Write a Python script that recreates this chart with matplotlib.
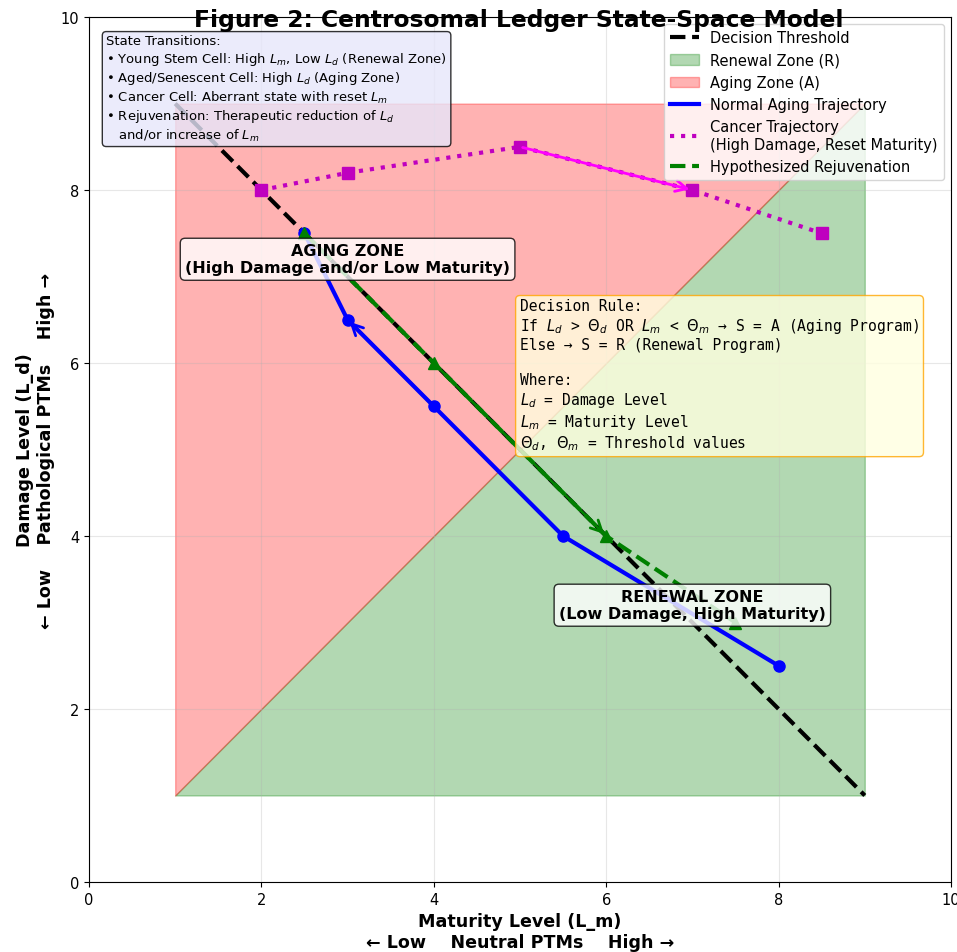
import matplotlib
matplotlib.use("Agg")
import matplotlib.pyplot as plt
from matplotlib.lines import Line2D
from matplotlib.patches import Patch
import numpy as np

# Data
threshold_x = [1, 9]
threshold_y = [9, 1]
zone_x = [1, 9]
zone_low = [1, 1]
zone_high = [9, 9]

normal_x = [2.5, 3, 4, 5.5, 8]
normal_y = [7.5, 6.5, 5.5, 4, 2.5]

cancer_x = [2, 3, 5, 7, 8.5]
cancer_y = [8, 8.2, 8.5, 8, 7.5]

rejuv_x = [2.5, 4, 6, 7.5]
rejuv_y = [7.5, 6, 4, 3]

ticks = [0, 2, 4, 6, 8, 10]

S = 1.05
plt.rcParams['xtick.labelsize'] = 10 * S
plt.rcParams['ytick.labelsize'] = 10 * S

fig = plt.figure(figsize=(9.57, 9.53), dpi=100)
ax = fig.add_axes([0.093, 0.0735, 0.9007, 0.9075])

# Zones
ax.fill_between(zone_x, zone_low, zone_x, color='green', alpha=0.3)
ax.fill_between(zone_x, zone_x, zone_high, color='red', alpha=0.3)

# Threshold
ax.plot(threshold_x, threshold_y, 'k--', lw=3)

# Trajectories
ax.plot(normal_x, normal_y, color='blue', lw=3, marker='o', markersize=8)
ax.annotate('', xy=(normal_x[1], normal_y[1]), xytext=(normal_x[2], normal_y[2]),
            arrowprops=dict(arrowstyle='->', color='blue', lw=2, mutation_scale=20))

ax.plot(cancer_x, cancer_y, color='m', lw=3, ls=':', marker='s', markersize=8)
ax.annotate('', xy=(cancer_x[3], cancer_y[3]), xytext=(cancer_x[2], cancer_y[2]),
            arrowprops=dict(arrowstyle='->', color='magenta', lw=2, mutation_scale=20))

ax.plot(rejuv_x, rejuv_y, color='green', lw=3, ls='--', marker='^', markersize=8)
ax.annotate('', xy=(rejuv_x[2], rejuv_y[2]), xytext=(rejuv_x[1], rejuv_y[1]),
            arrowprops=dict(arrowstyle='->', color='green', lw=2, mutation_scale=20))

# Zone labels
ax.text(3, 7.2, 'AGING ZONE\n(High Damage and/or Low Maturity)', ha='center', va='center',
        fontsize=11 * S, fontweight='bold',
        bbox=dict(boxstyle='round', facecolor='white', alpha=0.8))
ax.text(7, 3.2, 'RENEWAL ZONE\n(Low Damage, High Maturity)', ha='center', va='center',
        fontsize=11 * S, fontweight='bold',
        bbox=dict(boxstyle='round', facecolor='white', alpha=0.8))

# State transitions box
ax.text(0.02, 0.98,
        'State Transitions:\n'
        '• Young Stem Cell: High $L_m$, Low $L_d$ (Renewal Zone)\n'
        '• Aged/Senescent Cell: High $L_d$ (Aging Zone)\n'
        '• Cancer Cell: Aberrant state with reset $L_m$\n'
        '• Rejuvenation: Therapeutic reduction of $L_d$\n'
        '   and/or increase of $L_m$',
        transform=ax.transAxes, ha='left', va='top', fontsize=9 * S,
        bbox=dict(boxstyle='round', facecolor='lavender', alpha=0.8))

# Decision rule box
ax.text(5.0, 6.75,
        'Decision Rule:\n'
        'If $L_d$ > $\\Theta_d$ OR $L_m$ < $\\Theta_m$ → S = A (Aging Program)\n'
        'Else → S = R (Renewal Program)\n\n'
        'Where:\n'
        '$L_d$ = Damage Level\n'
        '$L_m$ = Maturity Level\n'
        '$\\Theta_d$, $\\Theta_m$ = Threshold values',
        ha='left', va='top', fontsize=10 * S, family='monospace',
        bbox=dict(boxstyle='round', facecolor='lightyellow', edgecolor='orange', alpha=0.8))

# Legend
handles = [
    Line2D([], [], color='k', ls='--', lw=3),
    Patch(facecolor='green', edgecolor='green', alpha=0.3),
    Patch(facecolor='red', edgecolor='red', alpha=0.3),
    Line2D([], [], color='blue', lw=3),
    Line2D([], [], color='m', lw=3, ls=':'),
    Line2D([], [], color='green', lw=3, ls='--'),
]
labels = ['Decision Threshold', 'Renewal Zone (R)', 'Aging Zone (A)',
          'Normal Aging Trajectory', 'Cancer Trajectory\n(High Damage, Reset Maturity)',
          'Hypothesized Rejuvenation']
ax.legend(handles, labels, loc='upper right', fontsize=10 * S)

ax.set_xlim(0, 10)
ax.set_ylim(0, 10)
ax.set_xticks(ticks)
ax.set_yticks(ticks)
ax.grid(True, alpha=0.3)
ax.set_xlabel('Maturity Level (L_m)\n← Low    Neutral PTMs    High →', fontsize=12 * S, fontweight='bold')
ax.set_ylabel('Damage Level (L_d)\n← Low    Pathological PTMs    High →', fontsize=12 * S, fontweight='bold')

fig.text(0.542, 0.979, 'Figure 2: Centrosomal Ledger State-Space Model',
         ha='center', va='center', fontsize=16 * S, fontweight='bold')

fig.savefig('out.png', dpi=100)
